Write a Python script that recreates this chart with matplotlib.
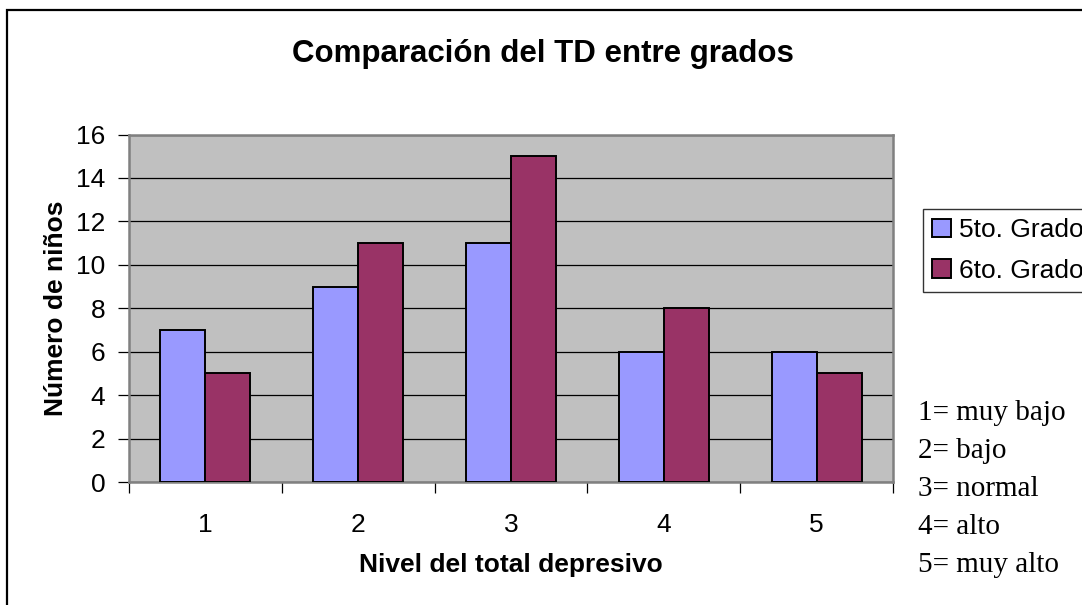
import matplotlib
matplotlib.use("Agg")
import matplotlib.pyplot as plt
import numpy as np
from matplotlib.patches import Rectangle

categories = ["1", "2", "3", "4", "5"]
series_names = ["5to. Grado", "6to. Grado"]
quinto = [7, 9, 11, 6, 6]
sexto = [5, 11, 15, 8, 5]
yticks = [0, 2, 4, 6, 8, 10, 12, 14, 16]
title = "Comparación del TD entre grados"
xlabel = "Nivel del total depresivo"
ylabel = "Número de niños"
notes = ["1= muy bajo", "2= bajo", "3= normal", "4= alto", "5= muy alto"]

W, H = 1082, 605
fig = plt.figure(figsize=(W / 100, H / 100), dpi=100)
fig.patch.set_facecolor("white")

# outer border
fig.patches.append(Rectangle((7 / W, -0.2), 2.0, 1.2 - 10 / H, transform=fig.transFigure,
                             fill=False, edgecolor="black", linewidth=1.6, zorder=10))

ax = fig.add_axes([129 / W, 1 - 482 / H, (893 - 129) / W, (482 - 134.5) / H])
ax.set_facecolor("#C0C0C0")

x = np.arange(len(categories))
bw = 0.295
ax.bar(x - bw / 2, quinto, bw, color="#9999FF", edgecolor="black", linewidth=1.4,
       label=series_names[0], zorder=3)
ax.bar(x + bw / 2, sexto, bw, color="#993366", edgecolor="black", linewidth=1.4,
       label=series_names[1], zorder=3)

FS = 19
ax.set_xlim(-0.5, len(categories) - 0.5)
ax.set_ylim(0, 16)
ax.set_yticks(yticks)
ax.set_yticklabels([str(t) for t in yticks], fontsize=FS, family="Liberation Sans")
ax.yaxis.grid(True, color="black", linewidth=0.9, zorder=1)
ax.set_axisbelow(True)

ax.set_xticks(x)
ax.set_xticklabels(categories, fontsize=FS, family="Liberation Sans")
ax.set_xticks(np.arange(-0.5, len(categories) + 0.5, 1), minor=True)
ax.tick_params(axis="x", which="major", length=0, pad=22)
ax.tick_params(axis="x", which="minor", length=8, width=0.9, color="black")
ax.tick_params(axis="y", length=8, width=0.9, color="black", pad=9)

for s in ax.spines.values():
    s.set_color("#808080")
    s.set_linewidth(1.8)

ax.set_xlabel(xlabel, fontsize=FS, fontweight="bold", family="Liberation Sans", labelpad=12)
ax.set_ylabel(ylabel, fontsize=FS, fontweight="bold", family="Liberation Sans", labelpad=6)

fig.text(543 / W, 1 - 54 / H, title, ha="center", va="center", fontsize=22.5,
         fontweight="bold", family="Liberation Sans")

leg = ax.legend(loc="upper left", bbox_to_anchor=(923 / W, 1 - 209 / H),
                bbox_transform=fig.transFigure, frameon=True, fancybox=False,
                prop={"family": "Liberation Sans", "size": FS},
                handlelength=0.7, handleheight=0.7, handletextpad=0.3,
                borderpad=0.35, labelspacing=0.62, borderaxespad=0)
leg.get_frame().set_edgecolor("black")
leg.get_frame().set_linewidth(1.0)

for i, n in enumerate(notes):
    fig.text(918 / W, 1 - (413 + i * 38) / H, n, ha="left", va="center",
             fontsize=21, family="Liberation Serif")

fig.savefig("out.png", dpi=100)
